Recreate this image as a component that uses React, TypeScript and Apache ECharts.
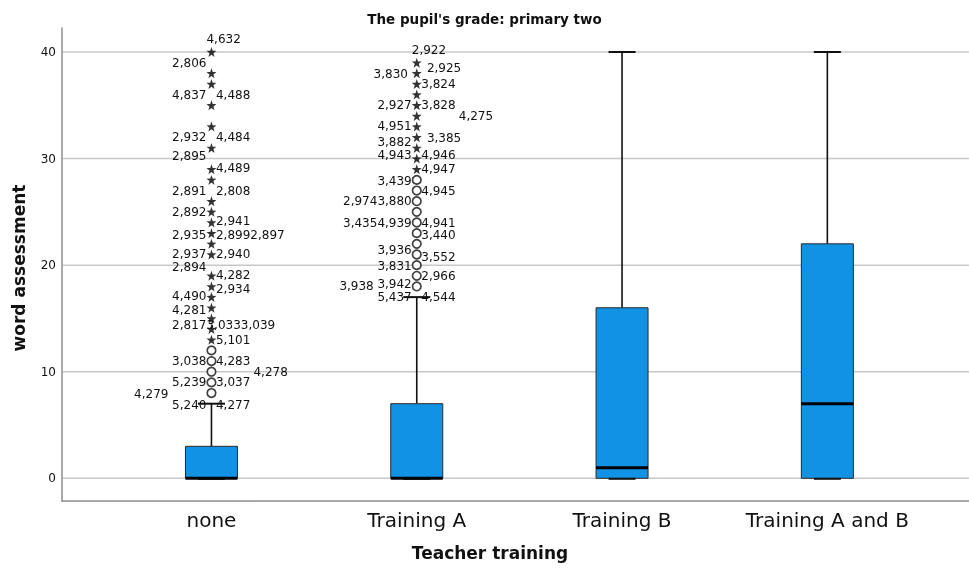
import React, { useEffect, useRef } from "react";
import * as echarts from "echarts";

// ---- Data ----
const categories = ["none", "Training A", "Training B", "Training A and B"];
const whiskerLow = [0, 0, 0, 0];
const quartile1 = [0, 0, 0, 0];
const medians = [0, 0, 1, 7];
const quartile3 = [3, 7, 16, 22];
const whiskerHigh = [7, 17, 40, 40];
const yTicks = [0, 10, 20, 30, 40];

// outliers (circles) and extreme values (stars), per category
const outlierCircles = [
  [8, 9, 10, 11, 12],
  [18, 19, 20, 21, 22, 23, 24, 25, 26, 27, 28],
  [],
  [],
];
const extremeStars = [
  [13, 14, 15, 16, 17, 18, 19, 21, 22, 23, 24, 25, 26, 28, 29, 31, 33, 35, 37, 38, 40],
  [29, 30, 31, 32, 33, 34, 35, 36, 37, 38, 39],
  [],
  [],
];

// case labels: [category index, value level, case id text, side column]
const caseLabels: [number, number, string, number][] = [
  [0, 41.2, "4,632", 0],
  [0, 39.0, "2,806", -1],
  [0, 36.0, "4,837", -1],
  [0, 36.0, "4,488", 1],
  [0, 32.05, "2,932", -1],
  [0, 32.05, "4,484", 1],
  [0, 30.2, "2,895", -1],
  [0, 29.1, "4,489", 1],
  [0, 27.0, "2,891", -1],
  [0, 27.0, "2,808", 1],
  [0, 25.0, "2,892", -1],
  [0, 24.15, "2,941", 1],
  [0, 22.8, "2,935", -1],
  [0, 22.8, "2,8992,897", 1],
  [0, 21.0, "2,937", -1],
  [0, 21.0, "2,940", 1],
  [0, 19.8, "2,894", -1],
  [0, 19.1, "4,282", 1],
  [0, 17.8, "2,934", 1],
  [0, 17.1, "4,490", -1],
  [0, 15.8, "4,281", -1],
  [0, 14.4, "2,817", -1],
  [0, 14.4, "3,0333,039", 0],
  [0, 13.0, "5,101", 1],
  [0, 11.0, "3,038", -1],
  [0, 11.0, "4,283", 1],
  [0, 10.0, "4,278", 2],
  [0, 9.04, "5,239", -1],
  [0, 9.04, "3,037", 1],
  [0, 7.95, "4,279", -2],
  [0, 6.85, "5,240", -1],
  [0, 6.85, "4,277", 1],
  [1, 40.2, "2,922", 0],
  [1, 37.9, "3,830", -1.1],
  [1, 38.5, "2,925", 1.15],
  [1, 37.0, "3,824", 1],
  [1, 35.0, "2,927", -1],
  [1, 35.0, "3,828", 1],
  [1, 34.0, "4,275", 2],
  [1, 33.1, "4,951", -1],
  [1, 31.6, "3,882", -1],
  [1, 31.9, "3,385", 1.15],
  [1, 30.3, "4,943", -1],
  [1, 30.3, "4,946", 1],
  [1, 29.0, "4,947", 1],
  [1, 27.9, "3,439", -1],
  [1, 27.0, "4,945", 1],
  [1, 26.0, "2,9743,880", -1],
  [1, 24.0, "3,4354,939", -1],
  [1, 24.0, "4,941", 1],
  [1, 22.8, "3,440", 1],
  [1, 21.4, "3,936", -1],
  [1, 20.8, "3,552", 1],
  [1, 19.9, "3,831", -1],
  [1, 19.0, "2,966", 1],
  [1, 18.2, "3,942", -1],
  [1, 18.0, "3,938", -2],
  [1, 17.0, "5,437", -1],
  [1, 17.0, "4,544", 1],
];

const STAR =
  "path://M0,-10L2.35,-3.24L9.51,-3.09L3.8,1.24L5.88,8.09L0,4L-5.88,8.09L-3.8,1.24L-9.51,-3.09L-2.35,-3.24Z";
const FONT = "'DejaVu Sans', sans-serif";

export default function App() {
  const ref = useRef<HTMLDivElement>(null);

  useEffect(() => {
    if (!ref.current) return;
    const chart = echarts.init(ref.current, null, { renderer: "svg" });

    const boxRows = categories.map((_, i) => [
      i,
      whiskerLow[i],
      quartile1[i],
      medians[i],
      quartile3[i],
      whiskerHigh[i],
    ]);
    const circleData: number[][] = [];
    outlierCircles.forEach((arr, i) => arr.forEach((v) => circleData.push([i, v])));
    const starData: number[][] = [];
    extremeStars.forEach((arr, i) => arr.forEach((v) => starData.push([i, v])));
    const labelData = caseLabels.map((l) => [l[0], l[1]]);
    const gridData = yTicks.map((v) => [0, v]);

    const option: any = {
      animation: false,
      title: {
        text: "The pupil's grade: primary two",
        left: "center",
        top: 7,
        textStyle: { fontSize: 13.5, fontWeight: "bold", fontFamily: FONT, color: "#111" },
      },
      grid: { left: 62, right: 0, top: 28, bottom: 69, containLabel: false },
      xAxis: {
        type: "value",
        min: -0.728,
        max: 3.69,
        axisLine: { show: true, onZero: false, lineStyle: { color: "#8c8c8c", width: 1.5 } },
        axisTick: { show: false },
        splitLine: { show: false },
        axisLabel: {
          customValues: [0, 1, 2, 3],
          formatter: (v: number) => categories[Math.round(v)] ?? "",
          fontSize: 20,
          fontFamily: FONT,
          color: "#111",
          margin: 9,
        },
      },
      yAxis: {
        type: "value",
        min: -2.13,
        max: 42.25,
        axisLine: { show: true, onZero: false, lineStyle: { color: "#8c8c8c", width: 1.5 } },
        axisTick: { show: false },
        splitLine: { show: false },
        axisLabel: {
          customValues: yTicks,
          fontSize: 12,
          fontFamily: FONT,
          color: "#111",
          margin: 6,
        },
      },
      graphic: [
        {
          type: "text",
          x: 490,
          y: 553,
          style: {
            text: "Teacher training",
            fontSize: 17,
            fontWeight: "bold",
            fontFamily: FONT,
            fill: "#111",
            align: "center",
            verticalAlign: "middle",
          },
        },
        {
          type: "text",
          x: 19,
          y: 268,
          rotation: Math.PI / 2,
          style: {
            text: "word assessment",
            fontSize: 17,
            fontWeight: "bold",
            fontFamily: FONT,
            fill: "#111",
            align: "center",
            verticalAlign: "middle",
          },
        },
      ],
      series: [
        {
          // horizontal gridlines at the y ticks
          type: "custom",
          z: 1,
          silent: true,
          data: gridData,
          encode: { x: 0, y: 1 },
          renderItem: (params: any, api: any) => {
            const y = api.coord([0, api.value(1)])[1];
            const cs = params.coordSys;
            return {
              type: "line",
              shape: { x1: cs.x + 1, y1: y, x2: cs.x + cs.width, y2: y },
              style: { stroke: "#c8c8c8", lineWidth: 1.5 },
            };
          },
        },
        {
          type: "custom",
          z: 3,
          data: boxRows,
          encode: { x: 0, y: [1, 2, 3, 4, 5] },
          renderItem: (params: any, api: any) => {
            const i = api.value(0);
            const [cx, yLo] = api.coord([i, api.value(1)]);
            const yQ1 = api.coord([i, api.value(2)])[1];
            const yMed = api.coord([i, api.value(3)])[1];
            const yQ3 = api.coord([i, api.value(4)])[1];
            const yHi = api.coord([i, api.value(5)])[1];
            const bw = api.size([0.2533, 0])[0];
            const cw = api.size([0.1315, 0])[0];
            const lineStyle = { stroke: "#111", lineWidth: 1.6 };
            return {
              type: "group",
              children: [
                { type: "line", shape: { x1: cx, y1: yQ3, x2: cx, y2: yHi }, style: lineStyle },
                { type: "line", shape: { x1: cx, y1: yQ1, x2: cx, y2: yLo }, style: lineStyle },
                {
                  type: "rect",
                  shape: { x: cx - bw / 2, y: yQ3, width: bw, height: yQ1 - yQ3 },
                  style: { fill: "#1192e5", stroke: "#2a2a2a", lineWidth: 1 },
                },
                {
                  type: "line",
                  shape: { x1: cx - cw / 2, y1: yHi, x2: cx + cw / 2, y2: yHi },
                  style: { stroke: "#111", lineWidth: 2 },
                },
                {
                  type: "line",
                  shape: { x1: cx - cw / 2, y1: yLo + 0.5, x2: cx + cw / 2, y2: yLo + 0.5 },
                  style: { stroke: "#111", lineWidth: 2 },
                },
                {
                  type: "line",
                  shape: { x1: cx - bw / 2, y1: yMed, x2: cx + bw / 2, y2: yMed },
                  style: { stroke: "#000", lineWidth: 3 },
                },
              ],
            };
          },
        },
        {
          type: "scatter",
          z: 4,
          data: circleData,
          symbol: "circle",
          symbolSize: 8.5,
          itemStyle: { color: "#fff", borderColor: "#111", borderWidth: 1.7 },
        },
        {
          type: "scatter",
          z: 4,
          data: starData,
          symbol: STAR,
          symbolSize: 10,
          itemStyle: { color: "#000" },
        },
        {
          type: "custom",
          z: 5,
          data: labelData,
          encode: { x: 0, y: 1 },
          renderItem: (params: any, api: any) => {
            const [x, y] = api.coord([api.value(0), api.value(1)]);
            const lab = caseLabels[params.dataIndex];
            const side = lab[3];
            let tx = x - 5;
            let align = "left";
            if (side > 0) {
              tx = x + 4.5 + (side - 1) * 37.5;
            } else if (side < 0) {
              tx = x - 5 + (side + 1) * 38;
              align = "right";
            }
            return {
              type: "text",
              x: tx,
              y,
              style: {
                text: lab[2],
                align,
                verticalAlign: "middle",
                fontSize: 12,
                fontFamily: FONT,
                fill: "#111",
              },
            };
          },
        },
      ],
    };

    chart.setOption(option);
    return () => chart.dispose();
  }, []);

  return (
    <div
      ref={ref}
      style={{ position: "fixed", left: 0, top: 0, width: 969, height: 570 }}
    />
  );
}
